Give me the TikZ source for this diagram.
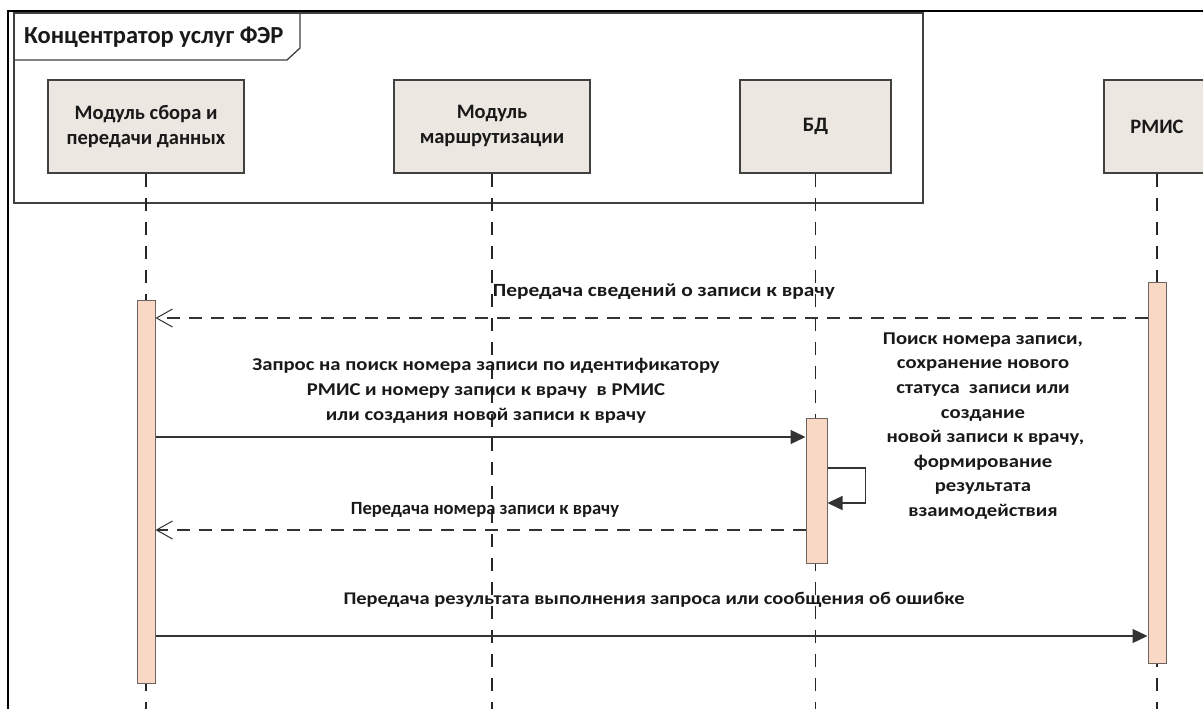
\documentclass[tikz,border=0pt]{standalone}
\usepackage{fontspec}
\setmainfont{Carlito}
\newfontfamily\widefont{Carlito}[FakeStretch=1.15]
\usetikzlibrary{arrows.meta}
\definecolor{headfill}{RGB}{236,231,224}
\definecolor{barfill}{RGB}{250,216,198}
\definecolor{linegray}{RGB}{64,64,64}
\definecolor{bargray}{RGB}{110,100,95}
\definecolor{txt}{RGB}{25,25,25}
\begin{document}
\begin{tikzpicture}[x=1pt,y=-1pt,
  head/.style={draw=linegray, line width=1.3pt, fill=headfill, minimum width=196pt,
    minimum height=93pt, inner sep=0pt, align=center, text=txt,
    font=\bfseries\fontsize{20.5}{25}\selectfont},
  bar/.style={draw=bargray, line width=1pt, fill=barfill, minimum width=18pt, inner sep=0pt},
  life/.style={draw=black!85, line width=1.2pt, dash pattern=on 13pt off 11pt},
  msg/.style={line width=1.3pt, draw=black!80},
  sync/.style={msg, -{Triangle[length=15pt,width=14pt]}},
  reply/.style={msg, dash pattern=on 13pt off 9pt, -{Straight Barb[length=16pt,width=18pt,line width=1pt]}},
  lbl/.style={text=txt, inner sep=0pt, align=center, font=\bfseries\fontsize{18}{22}\selectfont},
  wlbl/.style={lbl, font=\widefont\bfseries\fontsize{18}{25}\selectfont},
]
\clip (0,0) rectangle (1203,709);
\fill[white] (0,0) rectangle (1203,709);
% outer frame
\draw[line width=2pt] (8,709) -- (8,11) -- (1203,11);
% combined fragment
\node[draw=linegray, line width=1.4pt, minimum width=909pt, minimum height=190pt, inner sep=0pt] (frame) at (468.5,108) {};
\coordinate (tabc) at (300,60);
\draw[draw=linegray, line width=1.3pt] (frame.west |- tabc) -- (287,60) -- (300,48) -- (frame.north -| tabc);
\node[lbl, anchor=west, font=\bfseries\fontsize{24.5}{25}\selectfont] (ftitle) at (24,37) {Концентратор услуг ФЭР};
% heads
\node[head] (h1) at (146,126.5) {Модуль сбора и\\передачи данных};
\node[head] (h2) at (492,126.5) {Модуль\\маршрутизации};
\node[head, minimum width=151pt] (h3) at (815.5,126.5) {БД};
\node[head, minimum width=106pt] (h4) at (1157,126.5) {РМИС};
% lifelines
\foreach \h in {h1,h2,h3,h4} \draw[life] (\h.south) -- ++(0,540);
% activation bars
\node[bar, minimum height=383pt] (b1) at (146,491.5) {};
\node[bar, minimum height=381pt] (b4) at (1157,472.5) {};
\node[bar, minimum width=21pt, minimum height=145pt] (b3) at (816.5,490.5) {};
% messages
\draw[reply] (b4.west |- 0,318) -- (b1.east |- 0,318);
\node[wlbl, font=\widefont\bfseries\fontsize{18.6}{25}\selectfont] (l1) at (664,292) {Передача сведений о записи к врачу};
\draw[sync] (b1.east |- 0,437) -- (b3.west |- 0,437);
\node[wlbl] (l2) at (486,391) {Запрос на поиск номера записи по идентификатору\\РМИС и номеру записи к врачу\ \ в РМИС\\или создания новой записи к врачу};
\draw[sync] (b3.east |- 0,468) -- ++(38,0) -- ++(0,35) -- (b3.east |- 0,503);
\node[wlbl, font=\widefont\bfseries\fontsize{18}{24.6}\selectfont] (n1) at (983,426) {Поиск номера записи,\\сохранение нового\\статуса\ \ записи или\\создание\\\ новой записи к врачу,\\формирование\\результата\\взаимодействия};
\draw[reply] (b3.west |- 0,530) -- (b1.east |- 0,530);
\node[lbl, font=\bfseries\fontsize{18.6}{22}\selectfont] (l3) at (485,510) {Передача номера записи к врачу};
\draw[sync] (b1.east |- 0,636) -- (b4.west |- 0,636);
\node[wlbl, font=\widefont\bfseries\fontsize{17.8}{25}\selectfont] (l4) at (654,600) {Передача результата выполнения запроса или сообщения об ошибке};
\end{tikzpicture}
\end{document}
